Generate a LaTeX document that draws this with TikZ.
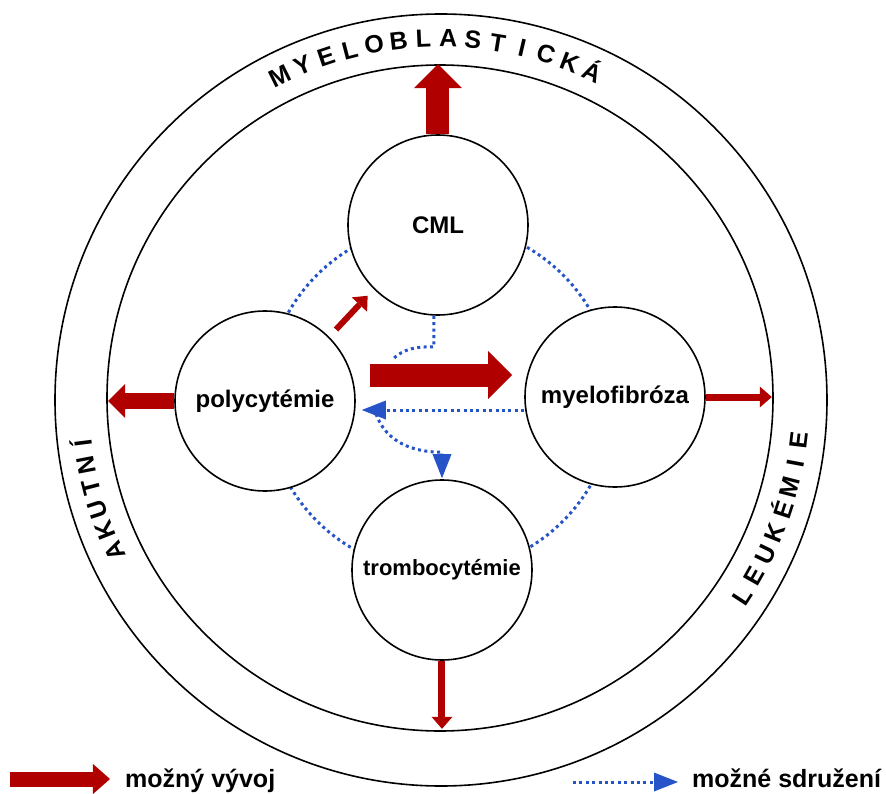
\documentclass[tikz,border=0pt]{standalone}
\usepackage{fontspec}
\setmainfont{Liberation Sans}
\usetikzlibrary{arrows.meta,calc}
\definecolor{devred}{RGB}{176,0,0}
\definecolor{assocblue}{RGB}{38,84,200}

\begin{document}
\begin{tikzpicture}[x=1pt,y=1pt]
  \tikzstyle{stage} = [circle, draw, line width=1.6pt, fill=white, minimum size=180pt, inner sep=0pt, font=\fontsize{24}{28}\selectfont\bfseries]
  \tikzstyle{letter} = [inner sep=0pt, anchor=base, font=\fontsize{25}{28}\selectfont\bfseries]
  \tikzstyle{legend} = [inner sep=0pt, anchor=base west, font=\fontsize{25}{28}\selectfont\bfseries]
  \tikzstyle{assoc} = [assocblue, line width=3pt, dash pattern=on 3pt off 3.4pt]
  \tikzstyle{assocarrow} = [assoc, -{Triangle[width=19pt, length=24pt, line width=0pt]}]
  \tikzstyle{devbig} = [devred, line width=23pt, -{Triangle[width=48pt, length=24pt, line width=0pt]}]
  \tikzstyle{devmid} = [devred, line width=16pt, -{Triangle[width=34pt, length=17pt, line width=0pt]}]
  \tikzstyle{devleg} = [devred, line width=15pt, -{Triangle[width=30pt, length=17pt, line width=0pt]}]
  \tikzstyle{devthin} = [devred, line width=7pt, -{Triangle[width=21pt, length=12pt, line width=0pt]}]

  \useasboundingbox (-440,-395) rectangle (446,398);

  % rings
  \draw[line width=1.6pt] (1,-2) circle (386);
  \node[circle, draw, line width=1.6pt, minimum size=666pt, inner sep=0pt] (inner) at (0,0) {};
  \draw[assoc] (0,0) circle (174);

  % ring text
  \foreach \ch [count=\i] in {M,Y,E,L,O,B,L,A,S,T,I,C,K,Á} {
    \pgfmathsetmacro{\a}{116.4-(\i-1)*3.96}
    \node[letter, rotate=\a-90] (top\i) at (\a:351) {\ch};
  }
  \foreach \ch [count=\i] in {A,K,U,T,N,Í} {
    \pgfmathsetmacro{\a}{205.2-(\i-1)*3.6}
    \node[letter, rotate=\a-90] (left\i) at (\a:351) {\ch};
  }
  \foreach \ch [count=\i] in {L,E,U,K,É,M,I,E} {
    \pgfmathsetmacro{\a}{-33.3+(\i-1)*3.8}
    \node[letter, rotate=\a+90] (right\i) at (\a:370) {\ch};
  }

  % stages
  \node[stage] (cml) at (-2,173) {CML};
  \node[stage] (poly) at (-175,-3) {polycytémie};
  \node[stage] (myelo) at (175,1) {myelofibróza};
  \node[stage, font=\fontsize{22}{26}\selectfont\bfseries] (trombo) at (2,-172) {trombocytémie};

  % possible development
  \draw[devbig] (cml.north) -- (cml.north |- inner.north);
  \draw[devmid, shorten >=2pt] (poly.west) -- (poly.west -| inner.west);
  \draw[devbig, shorten <=14pt, shorten >=12pt] ([yshift=26pt]poly.east) -- ([yshift=22pt]myelo.west);
  \draw[devthin, shorten >=2pt] (myelo.east) -- (myelo.east -| inner.east);
  \draw[devthin, line width=6pt, shorten <=10pt, shorten >=9pt] (poly.45) -- (cml.225);
  \draw[devthin, shorten >=3pt] (trombo.south) -- (trombo.south |- inner.south);

  % possible association
  \coordinate (cmlend) at (-48,38);
  \draw[assoc] ([xshift=-4pt]cml.south) -- ++(0,-31) to[out=180, in=45] (cmlend);
  \coordinate (fork) at (-64,-16);
  \coordinate (bend) at ($(trombo.north)+(0,27)$);
  \draw[assocarrow, shorten >=1pt] (fork) to[out=-70, in=180] (bend) -- (trombo.north);
  \draw[assocarrow, shorten >=6pt] ([yshift=-13pt]myelo.west) -- ([yshift=-9pt]poly.east);

  % legend
  \node[legend] (devlabel) at (-315,-389) {možný vývoj};
  \coordinate (devtail) at (-430,-381);
  \draw[devleg] (devtail) -- ([xshift=-15pt]devtail -| devlabel.west);
  \node[legend] (assoclabel) at (252,-389) {možné sdružení};
  \coordinate (assoctail) at (133,-384);
  \draw[assocarrow] (assoctail) -- ([xshift=-14pt]assoctail -| assoclabel.west);
\end{tikzpicture}
\end{document}
